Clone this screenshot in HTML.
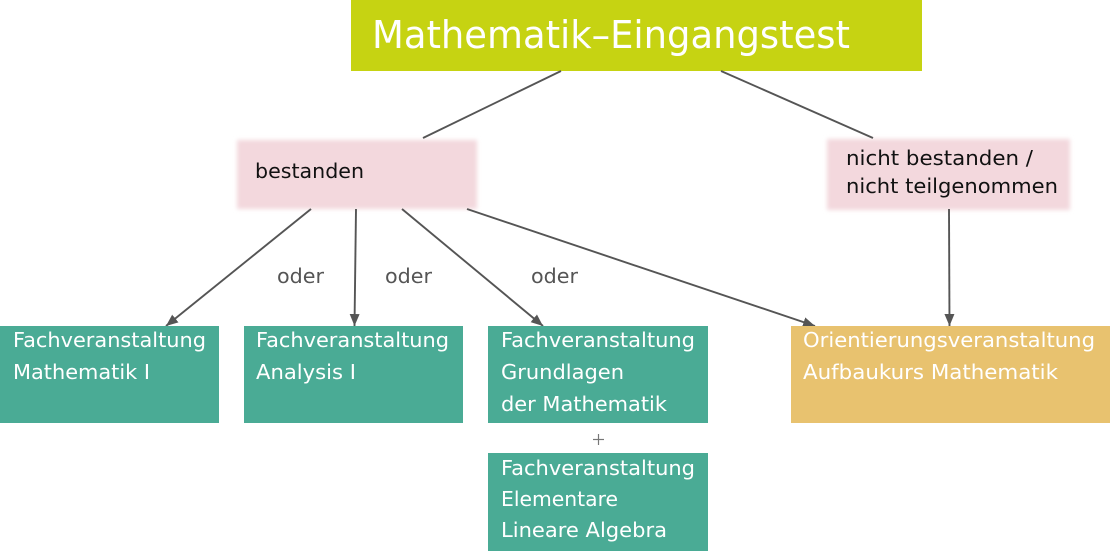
<!DOCTYPE html>
<html>
<head>
<meta charset="utf-8">
<style>
html,body{margin:0;padding:0;background:#fff;}
body{width:1110px;height:551px;overflow:hidden;}
svg{display:block;}
text{font-family:"DejaVu Sans","Liberation Sans",sans-serif;}
</style>
</head>
<body>
<svg width="1110" height="551" viewBox="0 0 1110 551" xmlns="http://www.w3.org/2000/svg">
  <defs>
    <filter id="blur" x="-10%" y="-20%" width="120%" height="140%">
      <feGaussianBlur stdDeviation="2"/>
    </filter>
    <marker id="ah" markerWidth="12" markerHeight="10" refX="12" refY="5" orient="auto" markerUnits="userSpaceOnUse">
      <path d="M0,0 L12,5 L0,10 Z" fill="#555"/>
    </marker>
  </defs>

  <!-- Title -->
  <rect x="351" y="0" width="571" height="71" fill="#c6d312"/>
  <text x="372" y="48" font-size="38" fill="#fff" textLength="478" lengthAdjust="spacingAndGlyphs">Mathematik–Eingangstest</text>

  <!-- Pink boxes -->
  <rect x="237" y="140" width="240" height="69" fill="#f3d8dd" filter="url(#blur)"/>
  <text x="255" y="178" font-size="20" fill="#111" textLength="109" lengthAdjust="spacingAndGlyphs">bestanden</text>

  <rect x="827" y="139" width="243" height="71" fill="#f3d8dd" filter="url(#blur)"/>
  <text x="846" y="165" font-size="20" fill="#111" textLength="187" lengthAdjust="spacingAndGlyphs">nicht bestanden /</text>
  <text x="846" y="193" font-size="20" fill="#111" textLength="212" lengthAdjust="spacingAndGlyphs">nicht teilgenommen</text>

  <!-- Connectors -->
  <g stroke="#555" stroke-width="1.9" fill="none">
    <line x1="561" y1="71" x2="423" y2="138"/>
    <line x1="721" y1="71" x2="873" y2="138"/>
    <line x1="311" y1="209" x2="166" y2="326" marker-end="url(#ah)"/>
    <line x1="356" y1="209" x2="354.5" y2="326" marker-end="url(#ah)"/>
    <line x1="402" y1="209" x2="543" y2="326" marker-end="url(#ah)"/>
    <line x1="467" y1="209" x2="815" y2="326" marker-end="url(#ah)"/>
    <line x1="949" y1="209" x2="949.5" y2="326" marker-end="url(#ah)"/>
  </g>

  <!-- oder labels -->
  <g font-size="20" fill="#555">
    <text x="277" y="283" textLength="47" lengthAdjust="spacingAndGlyphs">oder</text>
    <text x="385" y="283" textLength="47" lengthAdjust="spacingAndGlyphs">oder</text>
    <text x="531" y="283" textLength="47" lengthAdjust="spacingAndGlyphs">oder</text>
  </g>

  <!-- Green boxes -->
  <rect x="0" y="326" width="219" height="97" fill="#4aab95"/>
  <rect x="244" y="326" width="219" height="97" fill="#4aab95"/>
  <rect x="488" y="326" width="220" height="97" fill="#4aab95"/>
  <rect x="488" y="453" width="220" height="98" fill="#4aab95"/>
  <!-- Orange box -->
  <rect x="791" y="326" width="319" height="97" fill="#e8c26f"/>

  <g font-size="20" fill="#fff">
    <text x="13" y="347" textLength="193" lengthAdjust="spacingAndGlyphs">Fachveranstaltung</text>
    <text x="13" y="379" textLength="137" lengthAdjust="spacingAndGlyphs">Mathematik I</text>

    <text x="256" y="347" textLength="193" lengthAdjust="spacingAndGlyphs">Fachveranstaltung</text>
    <text x="256" y="379" textLength="100" lengthAdjust="spacingAndGlyphs">Analysis I</text>

    <text x="501" y="347" textLength="194" lengthAdjust="spacingAndGlyphs">Fachveranstaltung</text>
    <text x="501" y="379" textLength="123" lengthAdjust="spacingAndGlyphs">Grundlagen</text>
    <text x="501" y="411" textLength="166" lengthAdjust="spacingAndGlyphs">der Mathematik</text>

    <text x="501" y="475" textLength="194" lengthAdjust="spacingAndGlyphs">Fachveranstaltung</text>
    <text x="501" y="506" textLength="117" lengthAdjust="spacingAndGlyphs">Elementare</text>
    <text x="501" y="537" textLength="166" lengthAdjust="spacingAndGlyphs">Lineare Algebra</text>

    <text x="803" y="347" textLength="292" lengthAdjust="spacingAndGlyphs">Orientierungsveranstaltung</text>
    <text x="803" y="379" textLength="255" lengthAdjust="spacingAndGlyphs">Aufbaukurs Mathematik</text>
  </g>

  <!-- plus -->
  <g stroke="#777" stroke-width="1.2">
    <line x1="593" y1="439.5" x2="604" y2="439.5"/>
    <line x1="598.5" y1="434" x2="598.5" y2="445"/>
  </g>
</svg>
</body>
</html>
